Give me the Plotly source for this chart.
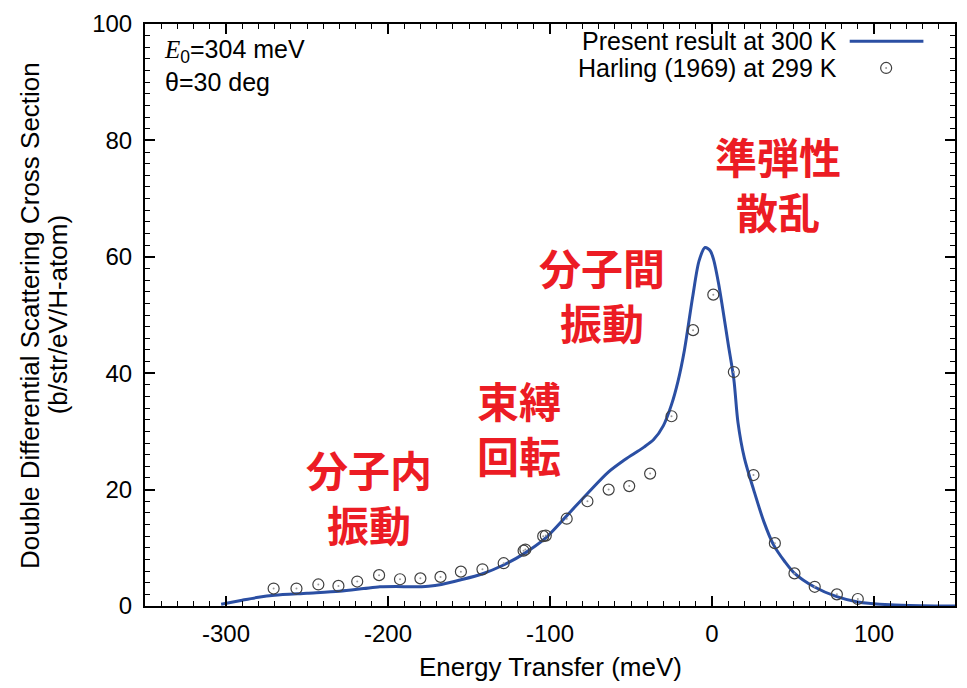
import plotly.graph_objects as go

# Calculated double differential scattering cross section (present result, 300 K)
calc_energy = [-303, -290, -280, -270, -250, -230, -215, -205, -195, -185, -175, -167,
               -155, -142, -129, -116, -103, -90, -77, -64, -55, -48, -42, -36, -30,
               -25, -21, -17, -12, -8, -4.3, -1, 1, 4, 6.5, 10, 13.5, 16, 20, 26, 32, 38,
               45, 51, 63, 77, 90, 110, 130, 150]
calc_xs = [0.3, 1.0, 1.5, 1.85, 2.2, 2.55, 3.0, 3.3, 3.35, 3.3, 3.4, 3.7,
           4.5, 5.5, 7.0, 9.0, 11.6, 15.4, 19.3, 23.0, 24.9, 26.2, 27.3, 28.6, 31.0,
           34.6, 38.6, 44.0, 53.0, 59.3, 61.6, 61.0, 59.5, 55.5, 51.3, 45.0, 38.9, 31.6, 25.4, 19.7, 14.5, 10.5,
           7.6, 5.6, 3.3, 1.6, 0.7, 0.2, 0.05, 0.0]

# Measured data, Harling (1969), 299 K
harling_energy = [-270.6, -256.5, -243.0, -230.6, -219.0, -205.5, -192.6, -180.0, -167.6,
                  -155.0, -141.7, -128.6, -116.3, -115.2, -104.2, -102.6, -89.7, -76.9,
                  -63.8, -51.1, -38.2, -25.0, -11.7, 0.8, 13.5, 25.6, 38.8, 50.9, 63.4,
                  77.1, 90.0]
harling_xs = [3.0, 3.0, 3.7, 3.45, 4.2, 5.3, 4.6, 4.75, 5.0,
              5.9, 6.3, 7.35, 9.5, 9.7, 12.0, 12.1, 15.0, 18.0,
              20.0, 20.6, 22.75, 32.6, 47.4, 53.5, 40.2, 22.5, 10.8, 5.6, 3.3,
              2.0, 1.2]

# Region labels (two-line text, energy and cross section at label centre)
region_text = ["準弾性<br>散乱", "分子間<br>振動", "束縛<br>回転", "分子内<br>振動"]
region_x = [41.0, -68.0, -119.4, -212.0]
region_y = [72.75, 53.65, 30.75, 18.85]

x_ticks = [-300, -200, -100, 0, 100]
x_tick_text = ["-300", "-200", "-100", "0", "100"]
y_ticks = [0, 20, 40, 60, 80, 100]

LINE_BLUE = "#2b4fa3"
MARK_GRAY = "#404040"
DOT_GRAY = "#9a9a9a"
LABEL_RED = "#ec1c24"
SANS = "Liberation Sans, Arial, sans-serif"

fig = go.Figure()
fig.add_trace(go.Scatter(
    x=calc_energy, y=calc_xs, mode="lines",
    line=dict(color=LINE_BLUE, width=3, shape="spline", smoothing=0.8),
    showlegend=False,
))
fig.add_trace(go.Scatter(
    x=harling_energy, y=harling_xs, mode="markers",
    marker=dict(symbol="circle-open", size=11, color=MARK_GRAY,
                line=dict(color=MARK_GRAY, width=1.2)),
    showlegend=False,
))
# faint centre dot of each data marker
fig.add_trace(go.Scatter(
    x=harling_energy, y=harling_xs, mode="markers",
    marker=dict(symbol="circle", size=2, color=DOT_GRAY),
    showlegend=False, hoverinfo="skip",
))

annotations = []
for t, xv, yv in zip(region_text, region_x, region_y):
    annotations.append(dict(
        x=xv, y=yv, xref="x", yref="y", text=t, showarrow=False,
        xanchor="center", yanchor="middle", align="center",
        font=dict(family="Noto Sans CJK JP", size=42, color=LABEL_RED, weight="bold"),
    ))

# Incident energy and scattering angle
annotations.append(dict(
    x=0.021, y=0.9287, xref="paper", yref="paper", xanchor="left", yanchor="middle",
    showarrow=False, align="left",
    text="<span style='font-family:Liberation Serif'><i>E</i></span><sub>0</sub>=304 meV<br>θ=30 deg",
    font=dict(family=SANS, size=25, color="black"),
))

# Legend entries (text to the left of the sample)
annotations.append(dict(
    x=0.8565, y=0.970, xref="paper", yref="paper", xanchor="right", yanchor="middle",
    showarrow=False, text="Present result at 300 K",
    font=dict(family=SANS, size=25, color="black"),
))
annotations.append(dict(
    x=0.8565, y=0.924, xref="paper", yref="paper", xanchor="right", yanchor="middle",
    showarrow=False, text="Harling (1969) at 299 K",
    font=dict(family=SANS, size=25, color="black"),
))

# Axis titles
annotations.append(dict(
    x=0.5, y=-0.105, xref="paper", yref="paper", xanchor="center", yanchor="middle",
    showarrow=False, text="Energy Transfer (meV)",
    font=dict(family=SANS, size=26, color="black"),
))
annotations.append(dict(
    x=-0.142, y=0.5, xref="paper", yref="paper", xanchor="center", yanchor="middle",
    showarrow=False, textangle=-90, text="Double Differential Scattering Cross Section",
    font=dict(family=SANS, size=26, color="black"),
))
annotations.append(dict(
    x=-0.107, y=0.5, xref="paper", yref="paper", xanchor="center", yanchor="middle",
    showarrow=False, textangle=-90, text="(b/str/eV/H-atom)",
    font=dict(family=SANS, size=26, color="black"),
))

shapes = [
    dict(type="line", xref="paper", yref="paper", x0=0.870, x1=0.961, y0=0.9705, y1=0.9705,
         line=dict(color=LINE_BLUE, width=3)),
    dict(type="circle", xref="paper", yref="paper", xsizemode="pixel", ysizemode="pixel",
         xanchor=0.915, yanchor=0.9245, x0=-5.5, x1=5.5, y0=-5.5, y1=5.5,
         line=dict(color=MARK_GRAY, width=1.2)),
    dict(type="circle", xref="paper", yref="paper", xsizemode="pixel", ysizemode="pixel",
         xanchor=0.915, yanchor=0.9245, x0=-1, x1=1, y0=-1, y1=1,
         line=dict(width=0), fillcolor=DOT_GRAY),
]

axis_common = dict(
    showline=True, linecolor="black", linewidth=2, mirror="allticks",
    ticks="inside", ticklen=10, tickwidth=1.5, tickcolor="black",
    showgrid=False, zeroline=False,
    tickfont=dict(family=SANS, size=24, color="black"),
)

fig.update_layout(
    width=967, height=688,
    margin=dict(l=145, r=10, t=17, b=82),
    paper_bgcolor="white", plot_bgcolor="white",
    xaxis=dict(range=[-350, 150], tickvals=x_ticks, ticktext=x_tick_text, ticklabelstandoff=5,
               minor=dict(dtick=10, tick0=0, ticks="inside", ticklen=5, tickcolor="black", tickwidth=1.2),
               **axis_common),
    yaxis=dict(range=[0, 100], tickvals=y_ticks, ticklabelstandoff=6,
               minor=dict(dtick=2, tick0=0, ticks="inside", ticklen=5, tickcolor="black", tickwidth=1.2),
               **axis_common),
    annotations=annotations,
    shapes=shapes,
)

fig.write_html("out.html")
